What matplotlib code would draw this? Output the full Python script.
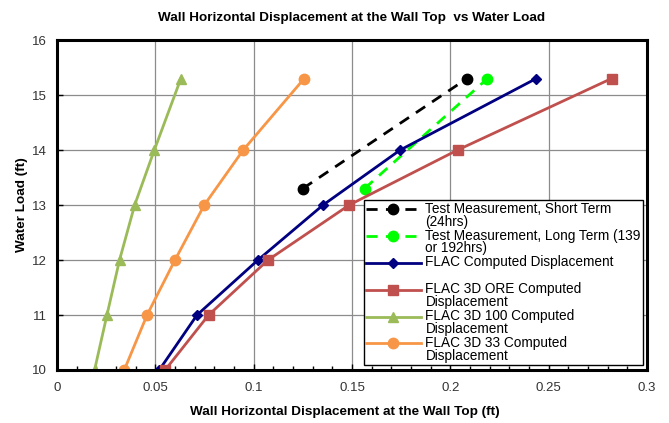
import matplotlib
matplotlib.use("Agg")
import matplotlib.pyplot as plt
import numpy as np
from matplotlib.legend_handler import HandlerLine2D
from matplotlib.ticker import MultipleLocator, FuncFormatter

# water load levels (ft)
load = [10, 11, 12, 13, 14, 15.3]
test_load = [13.3, 15.3]

# wall top displacement (ft)
short_term = [0.125, 0.2085]
long_term = [0.1564, 0.2189]
flac = [0.052, 0.0712, 0.1022, 0.1353, 0.1745, 0.2437]
flac_ore = [0.055, 0.0771, 0.1073, 0.1486, 0.2037, 0.282]
flac_100 = [0.0191, 0.0254, 0.0318, 0.0395, 0.0495, 0.063]
flac_33 = [0.0342, 0.0458, 0.060, 0.0749, 0.0947, 0.1257]

SANS = ["Liberation Sans", "DejaVu Sans"]
plt.rcParams["font.family"] = SANS


class FirstLineHandler(HandlerLine2D):
    """Put the legend handle next to the first line of a two-line label."""

    def __init__(self, shift, **kw):
        super().__init__(**kw)
        self.shift = shift

    def create_artists(self, legend, orig_handle, xdescent, ydescent,
                       width, height, fontsize, trans):
        artists = super().create_artists(legend, orig_handle, xdescent, ydescent,
                                         width, height, fontsize, trans)
        for a in artists:
            a.set_ydata(np.asarray(a.get_ydata()) + self.shift)
        return artists


fig = plt.figure(figsize=(6.69, 4.23), dpi=100)
ax = fig.add_axes([0.0852, 0.1253, 0.8819, 0.7801])

lines = []
lines += ax.plot(short_term, test_load, color="black", ls=(0, (4, 3)), lw=2,
                 marker="o", ms=7.5, label="Test Measurement, Short Term\n(24hrs)")
lines += ax.plot(long_term, test_load, color="#00FF00", ls=(0, (4, 3)), lw=2,
                 marker="o", ms=7.5, label="Test Measurement, Long Term (139\nor 192hrs)")
lines += ax.plot(flac, load, color="#000080", lw=2, marker="D", ms=5.5,
                 label="FLAC Computed Displacement\n ")
lines += ax.plot(flac_ore, load, color="#C0504D", lw=2, marker="s", ms=7,
                 label="FLAC 3D ORE Computed\nDisplacement")
lines += ax.plot(flac_100, load, color="#9BBB59", lw=2, marker="^", ms=7.5,
                 label="FLAC 3D 100 Computed\nDisplacement")
lines += ax.plot(flac_33, load, color="#F79646", lw=2, marker="o", ms=7.5,
                 label="FLAC 3D 33 Computed\nDisplacement")

ax.set_xlim(0, 0.3)
ax.set_ylim(10, 16)
ax.xaxis.set_major_locator(MultipleLocator(0.05))
ax.xaxis.set_minor_locator(MultipleLocator(0.01))
ax.yaxis.set_major_locator(MultipleLocator(1))
ax.xaxis.set_major_formatter(FuncFormatter(
    lambda v, p: f"{v:.2f}".rstrip("0").rstrip(".") if v else "0"))
ax.grid(True, which="major", color="#8C8C8C", lw=0.9)
ax.set_axisbelow(True)
ax.tick_params(which="both", direction="in", length=4, width=1, labelsize=9.5,
               labelcolor="#333333")
ax.tick_params(axis="x", pad=9)
ax.tick_params(axis="y", pad=7)
ax.tick_params(which="minor", length=3)
for sp in ax.spines.values():
    sp.set_linewidth(2.2)

ax.set_title("Wall Horizontal Displacement at the Wall Top  vs Water Load",
             fontsize=9.7, fontweight="bold", pad=14)
ax.set_xlabel("Wall Horizontal Displacement at the Wall Top (ft)",
              fontsize=9.7, fontweight="bold")
ax.xaxis.set_label_coords(0.488, -0.108)
ax.set_ylabel("Water Load (ft)", fontsize=9.7, fontweight="bold", labelpad=3)

fs = 9.8
ls_text = 0.9
handler = FirstLineHandler(shift=0.5 * fs * ls_text * 1.12)
leg = ax.legend(handles=lines, loc="lower right", bbox_to_anchor=(0.993, 0.015),
                prop={"size": fs}, frameon=True, fancybox=False,
                edgecolor="black", framealpha=1, handlelength=4.1,
                handletextpad=0.3, labelspacing=0.0, borderpad=0.15,
                borderaxespad=0.0, numpoints=1,
                handler_map={l: handler for l in lines})
leg.get_frame().set_linewidth(1.0)
for t in leg.get_texts():
    t.set_linespacing(ls_text)

fig.savefig("out.png", dpi=100)
